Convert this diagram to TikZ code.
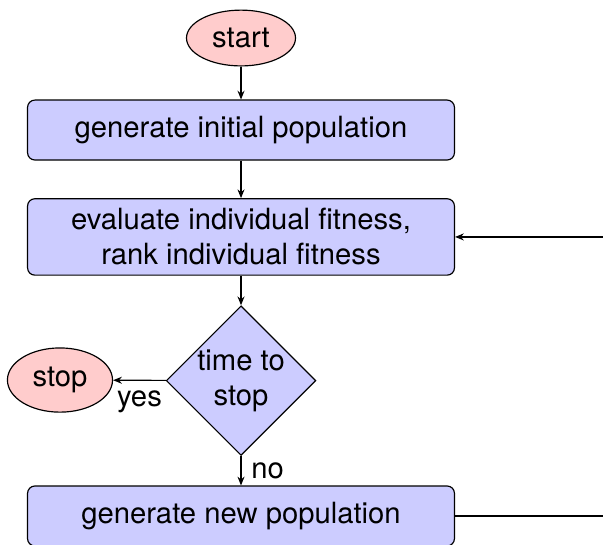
\documentclass[tikz,border=0pt]{standalone}
\usepackage{fontspec}
\setmainfont{TeX Gyre Heros}
\usepackage{tikz}
\usetikzlibrary{arrows.meta,positioning,shapes.geometric}

\begin{document}
\begin{tikzpicture}[
  block/.style={rectangle, draw, fill=blue!20, rounded corners=2.5pt,
                minimum width=146pt, minimum height=20.5pt, align=center,
                font=\normalsize},
  cloud/.style={ellipse, draw, fill=red!20},
  decision/.style={diamond, draw, fill=blue!20, inner sep=0pt, align=center},
  line/.style={-{Stealth[length=3pt,width=2.4pt]}}
]
  \useasboundingbox (0, 0) rectangle (7.248, -6.539);
  \clip (0, 0) rectangle (7.248, -6.539);
  % main column
  \node[cloud] (start) at (2.897, -0.457) {start};
  \node[block] (init) at (2.897, -1.563) {generate initial population};
  \node[block] (evaluate) at (2.897, -2.848) {evaluate individual fitness,\\rank individual fitness};
  \node[decision] (decide) at (2.897, -4.575) {time to\\stop};
  \node[cloud] (stop) at (0.721, -4.568) {stop};
  \node[block] (update) at (2.897, -6.202) {generate new population};
  % connectors
  \draw[line] (start) -- (init);
  \draw[line] (init) -- (evaluate);
  \draw[line] (evaluate) -- (decide);
  \draw[line] (decide) -- node[below] {yes} (stop);
  \draw[line] (decide) -- node[right] {no} (update);
  % loop back (runs out of the frame)
  \coordinate (loop) at (7.6, -6.202);
  \draw[line] (update) -- (loop) |- (evaluate);
\end{tikzpicture}
\end{document}
